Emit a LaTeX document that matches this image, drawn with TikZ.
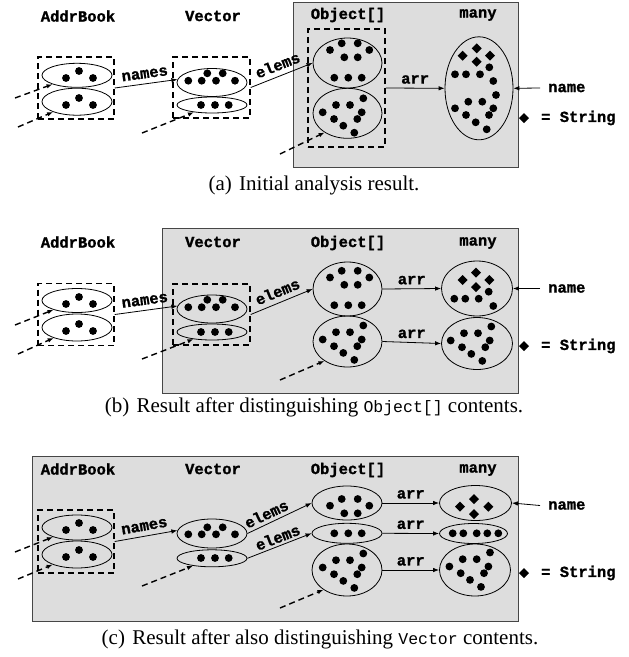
\documentclass[tikz,border=0pt]{standalone}
\usepackage{fontspec}
\setmainfont{Liberation Serif}
\setmonofont{Liberation Mono}
\newfontfamily\labfont[BoldFeatures={FakeBold=1.2}]{Liberation Mono}
\usetikzlibrary{arrows.meta,shapes.geometric}
\definecolor{boxgray}{RGB}{221,221,221}
\definecolor{boxline}{RGB}{70,70,70}
\begin{document}
\begin{tikzpicture}[x=1pt,y=-1pt,
  lab/.style={font=\fontsize{15.5}{16}\selectfont\labfont\bfseries, inner sep=1pt},
  captxt/.style={font=\fontsize{21}{24}\selectfont, inner sep=0pt},
  ell/.style={draw, ellipse, inner sep=0pt, line width=0.8pt},
  dbox/.style={draw, rectangle, inner sep=0pt, line width=1.5pt, dash pattern=on 6pt off 4pt},
  grayb/.style={fill=boxgray, draw=boxline, line width=1pt},
  arr/.style={-{Latex[length=6pt,width=4.5pt]}, line width=0.8pt},
  darr/.style={-{Latex[length=6pt,width=4.5pt]}, line width=1.4pt, dash pattern=on 6pt off 4pt},
  diam/.pic={\fill (0,-5) -- (5,0) -- (0,5) -- (-5,0) -- cycle;},
  vpat/.pic={\foreach \q in {(-24.8,-1),(-11.5,-8.3),(2.5,-8.3),(15.8,-15),(-13.5,5.7),(14.2,-1),(-4.2,12.4),(9.8,5.7),(6.8,19.4)} \fill \q circle[radius=3.9pt];},
  opat/.pic={\foreach \q in {(-17.5,-13),(-5.8,-19.7),(10.2,-19.7),(21.8,-13),(-3.2,-5.7),(10.2,-5.7),(-13.2,14.7),(0.8,14.7),(14.2,14.7)} \fill \q circle[radius=3.9pt];},
  vecpat/.pic={\foreach \q in {(-23.7,-1.8),(-10.3,-1.8),(-4.7,-9.2),(4,-1.8),(10.7,-9.2),(23,-1.8)} \fill \q circle[radius=3.9pt];},
  abpat/.pic={\foreach \q in {(-11,2.7),(2,-4.3),(16,2.7)} \fill \q circle[radius=3.9pt];}
]
\useasboundingbox (0,0) rectangle (629,657);
\def\dr{3.9pt}

%%%%%%%%%%%%%%%% (a)
\filldraw[grayb] (293,2) rectangle (518,167);
\node[lab] (laA1) at (78,16) {AddrBook};
\node[lab] (laA2) at (213,16) {Vector};
\node[lab] (laA3) at (348,15) {Object[]};
\node[lab] (laA4) at (478,15) {many};

\node[dbox, minimum width=76pt, minimum height=62pt] (abA) at (76,88) {};
\node[ell, minimum width=70pt, minimum height=24pt] (abA1) at (77,75.3) {};
\node[ell, minimum width=70pt, minimum height=27pt] (abA2) at (77,101.7) {};
\pic at (77,75.3) {abpat};
\pic at (77,102.3) {abpat};

\node[dbox, minimum width=77pt, minimum height=61pt] (vxA) at (211.5,87.5) {};
\node[ell, minimum width=70pt, minimum height=28pt] (vtA) at (212,82.5) {};
\node[ell, minimum width=70pt, minimum height=16pt] (vbA) at (212,105) {};
\pic at (212,82.5) {vecpat};
\foreach \p in {(201,105),(215,105),(228.7,105)} \fill \p circle[radius=\dr];

\node[dbox, minimum width=77pt, minimum height=118pt] (oxA) at (346.5,88) {};
\node[ell, minimum width=69pt, minimum height=50pt] (otA) at (347.5,63) {};
\node[ell, minimum width=69pt, minimum height=50pt] (obA) at (347.5,113.3) {};
\pic at (347.5,63) {opat};
\pic at (347.5,113.3) {vpat};

\node[ell, minimum width=68pt, minimum height=103pt] (maA) at (479,88.3) {};
\foreach \p in {(462.7,55.7),(476.7,48.3),(490,55.7),(476.7,61.7)} \pic at \p {diam};
\foreach \p in {(455,74.3),(466,74.3),(480,74.3),(489.3,67.3),(493.3,81),(496,95),(455,108.3),(468.3,101.7),(482.3,101.7),(493.3,108.3),(466,115),(489,115),(475.7,122.3),(486.7,129.3)} \fill \p circle[radius=\dr];

\coordinate (sA1) at (15,98);
\coordinate (sA2) at (18,127);
\coordinate (sA3) at (142,133);
\coordinate (sA4) at (280,154);
\draw[darr] (sA1) -- (abA1);
\draw[darr] (sA2) -- (abA2);
\draw[darr] (sA3) -- (vbA);
\draw[darr] (sA4) -- (obA.-140);
\draw[arr] (abA.east) -- node[lab, sloped, above=4pt] {names} (vtA.175);
\draw[arr] (vxA.east) -- node[lab, sloped, above=4pt] {elems} (otA.west);
\draw[arr] (oxA.east) -- node[lab, above=3pt] {arr} (maA.west);
\node[lab, anchor=west, inner xsep=2pt] (nmA) at (546,88) {name};
\draw[arr] ([xshift=-6pt]nmA.west) -- (maA.east);
\pic at (524,118) {diam};
\node[lab, anchor=west] (stA) at (540,118) {= String};

\node[captxt] (capA) at (314,185) {(a)\hspace{0.35em}Initial analysis result.};

%%%%%%%%%%%%%%%% (b)
\filldraw[grayb] (162,228) rectangle (518,393);
\node[lab] (laB1) at (78,242) {AddrBook};
\node[lab] (laB2) at (213,242) {Vector};
\node[lab] (laB3) at (348,243) {Object[]};
\node[lab] (laB4) at (478,243) {many};

\node[dbox, minimum width=76pt, minimum height=62pt] (abB) at (76,314.5) {};
\node[ell, minimum width=70pt, minimum height=24pt] (abB1) at (77,300.5) {};
\node[ell, minimum width=70pt, minimum height=27pt] (abB2) at (77,327.5) {};
\pic at (77,301.3) {abpat};
\pic at (77,328.3) {abpat};

\node[dbox, minimum width=77pt, minimum height=61pt] (vxB) at (211.5,314.5) {};
\node[ell, minimum width=70pt, minimum height=28pt] (vtB) at (212,309) {};
\node[ell, minimum width=70pt, minimum height=16pt] (vbB) at (212,332) {};
\pic at (212,309) {vecpat};
\foreach \p in {(201,332),(215,332),(228.7,332)} \fill \p circle[radius=\dr];

\node[ell, minimum width=69pt, minimum height=54pt] (otB) at (347.5,289) {};
\node[ell, minimum width=69pt, minimum height=51pt] (obB) at (347.5,341.5) {};
\pic at (347.5,290.5) {opat};
\pic at (347.5,340.5) {vpat};

\node[ell, minimum width=71pt, minimum height=55pt] (mtB) at (477,288.5) {};
\node[ell, minimum width=71pt, minimum height=52pt] (mbB) at (477,343.5) {};
\foreach \p in {(462.7,280),(476,272.7),(489.3,280),(476,287)} \pic at \p {diam};
\foreach \p in {(454.3,298.7),(465.3,298.7),(478.7,298.7),(488.7,291.7),(493.3,306)} \fill \p circle[radius=\dr];
\pic at (475.5,341.5) {vpat};

\coordinate (sB1) at (15,325);
\coordinate (sB2) at (18,354);
\coordinate (sB3) at (142,359);
\coordinate (sB4) at (280,380);
\draw[darr] (sB1) -- (abB1);
\draw[darr] (sB2) -- (abB2);
\draw[darr] (sB3) -- (vbB);
\draw[darr] (sB4) -- (obB.-140);
\draw[arr] (abB.east) -- node[lab, sloped, above=4pt] {names} (vtB.175);
\draw[arr] (vxB.east) -- node[lab, sloped, above=4pt] {elems} (otB.west);
\draw[arr] (otB.east) -- node[lab, above=3pt] {arr} (mtB.west);
\draw[arr] (obB.east) -- node[lab, above=3pt] {arr} (mbB.west);
\node[lab, anchor=west, inner xsep=2pt] (nmB) at (546,288.5) {name};
\draw[arr] ([xshift=-6pt]nmB.west) -- (mtB.east);
\pic at (524,346) {diam};
\node[lab, anchor=west] (stB) at (540,346) {= String};

\node[captxt] (capB) at (314,407) {(b)\hspace{0.35em}Result after distinguishing {\fontsize{16.5}{17}\selectfont\ttfamily Object[]} contents.};

%%%%%%%%%%%%%%%% (c)
\filldraw[grayb] (32,456) rectangle (518,621);
\node[lab] (laC1) at (78,469) {AddrBook};
\node[lab] (laC2) at (213,469) {Vector};
\node[lab] (laC3) at (348,470) {Object[]};
\node[lab] (laC4) at (478,470) {many};

\node[dbox, minimum width=76pt, minimum height=63pt] (abC) at (76,541.5) {};
\node[ell, minimum width=70pt, minimum height=25pt] (abC1) at (77,527.5) {};
\node[ell, minimum width=70pt, minimum height=27pt] (abC2) at (77,554.5) {};
\pic at (77,527.3) {abpat};
\pic at (77,554.3) {abpat};

\node[ell, minimum width=70pt, minimum height=29pt] (vtC) at (212,533.5) {};
\node[ell, minimum width=70pt, minimum height=17pt] (vbC) at (212,558.3) {};
\foreach \p in {(188.3,534.3),(201.7,534.3),(207.3,527.3),(216,534.3),(222.7,527.3),(235,534.3)} \fill \p circle[radius=\dr];
\foreach \p in {(201,558),(215,558),(228.7,558)} \fill \p circle[radius=\dr];

\node[ell, minimum width=70pt, minimum height=34pt] (otC) at (347,503) {};
\node[ell, minimum width=70pt, minimum height=20pt] (omC) at (347,533.3) {};
\node[ell, minimum width=70pt, minimum height=52pt] (obC) at (347,570) {};
\foreach \p in {(330,505.7),(341.7,499),(357.7,499),(369.3,505.7),(344.3,513.3),(357.7,513.3)} \fill \p circle[radius=\dr];
\foreach \p in {(334.3,533.3),(348.3,533.3),(361.7,533.3)} \fill \p circle[radius=\dr];
\pic at (347.5,568.5) {vpat};

\node[ell, minimum width=72pt, minimum height=35pt] (mtC) at (475.5,503) {};
\node[ell, minimum width=68pt, minimum height=20pt] (mmC) at (473.5,533.5) {};
\node[ell, minimum width=71pt, minimum height=52pt] (mbC) at (475,570) {};
\foreach \p in {(460,506.7),(474,499),(488.3,506.7),(474,514)} \pic at \p {diam};
\foreach \p in {(452.7,533.3),(463.3,533.3),(476.7,533.3),(487.3,533.3),(498.3,533.3)} \fill \p circle[radius=\dr];
\pic at (474.2,567.5) {vpat};

\coordinate (sC1) at (15,552);
\coordinate (sC2) at (18,579);
\coordinate (sC3) at (142,586);
\coordinate (sC4) at (280,608);
\draw[darr] (sC1) -- (abC1);
\draw[darr] (sC2) -- (abC2);
\draw[darr] (sC3) -- (vbC);
\draw[darr] (sC4) -- (obC.-140);
\draw[arr] (abC.east) -- node[lab, sloped, above=4pt] {names} (vtC.175);
\draw[arr] (vtC.east) -- node[lab, sloped, above=3.5pt, pos=0.36, inner sep=0pt] {elems} (otC.west);
\draw[arr] (vbC.east) -- node[lab, sloped, above=2.5pt, pos=0.52, inner sep=0pt] {elems} (omC.west);
\draw[arr] (otC.east) -- node[lab, above=3pt] {arr} (mtC.west);
\draw[arr] (omC.east) -- node[lab, above=3pt] {arr} (mmC.west);
\draw[arr] (obC.east) -- node[lab, above=3pt] {arr} (mbC.west);
\node[lab, anchor=west, inner xsep=2pt] (nmC) at (546,505.5) {name};
\draw[arr] ([xshift=-6pt]nmC.west) -- (mtC.east);
\pic at (524,573) {diam};
\node[lab, anchor=west] (stC) at (540,573) {= String};

\node[captxt] (capC) at (320,639) {(c)\hspace{0.35em}Result after also distinguishing {\fontsize{16.5}{17}\selectfont\ttfamily Vector} contents.};
\end{tikzpicture}
\end{document}
